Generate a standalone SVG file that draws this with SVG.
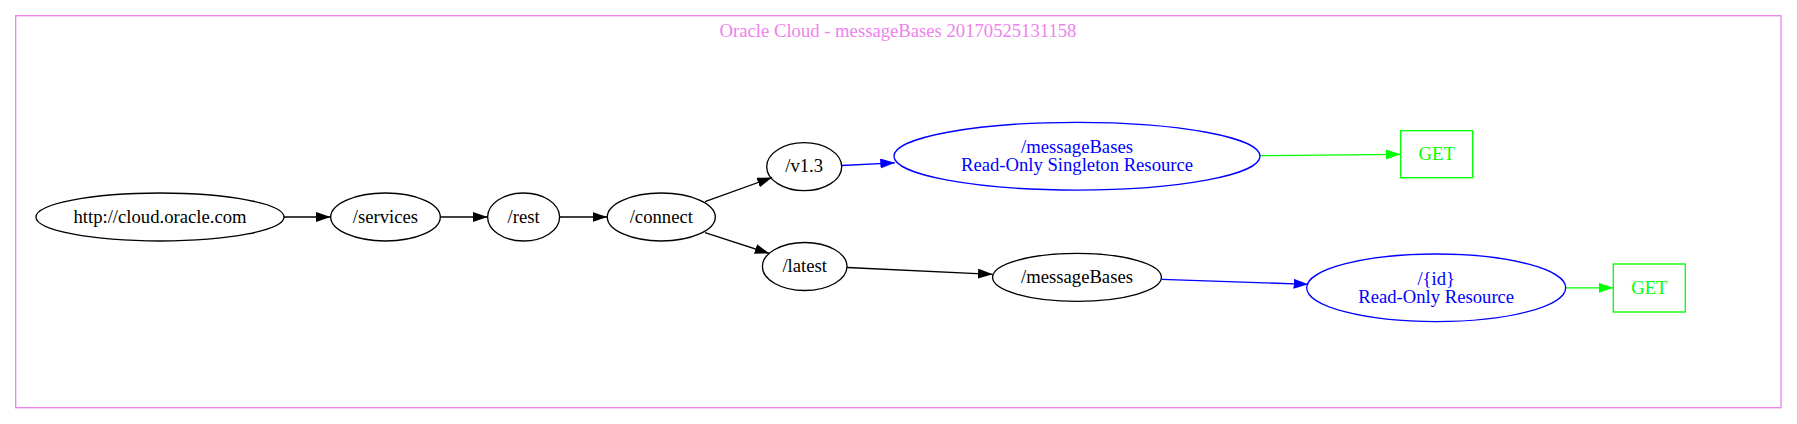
<svg xmlns="http://www.w3.org/2000/svg" width="1797" height="424" viewBox="0 0 1797 424">
<style>
text{font-family:"Liberation Serif","Times New Roman",serif;font-size:18.67px;text-anchor:middle}
.n{fill:none;stroke:#000;stroke-width:1.33}
.nb{fill:none;stroke:#0000ff;stroke-width:1.33}
.ng{fill:none;stroke:#00ff00;stroke-width:1.33}
.tb{fill:#0000ff}
.tg{fill:#00ff00}
.e{fill:none;stroke-width:1.33}
</style>
<defs>
<marker id="ak" markerUnits="userSpaceOnUse" markerWidth="16" markerHeight="11" refX="14.7" refY="5" orient="auto"><path d="M0,0L14.7,5L0,10Z" fill="#000"/></marker>
<marker id="ab" markerUnits="userSpaceOnUse" markerWidth="16" markerHeight="11" refX="14.7" refY="5" orient="auto"><path d="M0,0L14.7,5L0,10Z" fill="#0000ff"/></marker>
<marker id="ag" markerUnits="userSpaceOnUse" markerWidth="16" markerHeight="11" refX="14.7" refY="5" orient="auto"><path d="M0,0L14.7,5L0,10Z" fill="#00ff00"/></marker>
</defs>
<rect width="1797" height="424" fill="#fff"/>
<g id="cluster">
<rect x="15.7" y="15.7" width="1765.3" height="392" fill="none" stroke="#ee82ee" stroke-width="1.33"/>
<text x="898" y="37" fill="#ee82ee">Oracle Cloud - messageBases 20170525131158</text>
</g>
<g id="connectors">
<path class="e" stroke="#000" marker-end="url(#ak)" d="M284,217L330.7,217"/>
<path class="e" stroke="#000" marker-end="url(#ak)" d="M440.2,217L487.7,217"/>
<path class="e" stroke="#000" marker-end="url(#ak)" d="M559.6,217L607.3,217"/>
<path class="e" stroke="#000" marker-end="url(#ak)" d="M705,201.7L772,177.5"/>
<path class="e" stroke="#000" marker-end="url(#ak)" d="M705,232.7L769.5,253.5"/>
<path class="e" stroke="#0000ff" marker-end="url(#ab)" d="M841.7,165.5L895,162.8"/>
<path class="e" stroke="#000" marker-end="url(#ak)" d="M847,267.5L992.7,274.3"/>
<path class="e" stroke="#0000ff" marker-end="url(#ab)" d="M1161.7,279.3L1308.3,284.3"/>
<path class="e" stroke="#00ff00" marker-end="url(#ag)" d="M1259,155.7L1400.7,154.3"/>
<path class="e" stroke="#00ff00" marker-end="url(#ag)" d="M1565.7,287.8L1613.3,287.8"/>
</g>
<g id="n_root"><ellipse class="n" cx="160" cy="217" rx="124" ry="24"/><text x="160" y="222.6">http://cloud.oracle.com</text></g>
<g id="n_services"><ellipse class="n" cx="385.5" cy="217" rx="54.8" ry="24"/><text x="385.5" y="222.6">/services</text></g>
<g id="n_rest"><ellipse class="n" cx="523.6" cy="217" rx="36" ry="24"/><text x="523.6" y="222.6">/rest</text></g>
<g id="n_connect"><ellipse class="n" cx="661.3" cy="217" rx="54" ry="24"/><text x="661.3" y="222.6">/connect</text></g>
<g id="n_v13"><ellipse class="n" cx="804.2" cy="166.7" rx="37.5" ry="24"/><text x="804.2" y="172.3">/v1.3</text></g>
<g id="n_latest"><ellipse class="n" cx="804.7" cy="266.5" rx="42.3" ry="24"/><text x="804.7" y="272.1">/latest</text></g>
<g id="n_mb_singleton"><ellipse class="nb" cx="1077" cy="156.2" rx="183" ry="33.9"/><text class="tb" x="1077" y="152.7">/messageBases</text><text class="tb" x="1077" y="171">Read-Only Singleton Resource</text></g>
<g id="n_get1"><rect class="ng" x="1400.7" y="130.7" width="72" height="47"/><text class="tg" x="1436.7" y="160.4">GET</text></g>
<g id="n_mb"><ellipse class="n" cx="1077" cy="277.3" rx="84.4" ry="24"/><text x="1077" y="282.9">/messageBases</text></g>
<g id="n_id"><ellipse class="nb" cx="1436.2" cy="287.8" rx="129.5" ry="33.8"/><text class="tb" x="1436.2" y="285">/{id}</text><text class="tb" x="1436.2" y="302.7">Read-Only Resource</text></g>
<g id="n_get2"><rect class="ng" x="1613.3" y="264" width="72" height="48"/><text class="tg" x="1649.3" y="293.6">GET</text></g>
</svg>
